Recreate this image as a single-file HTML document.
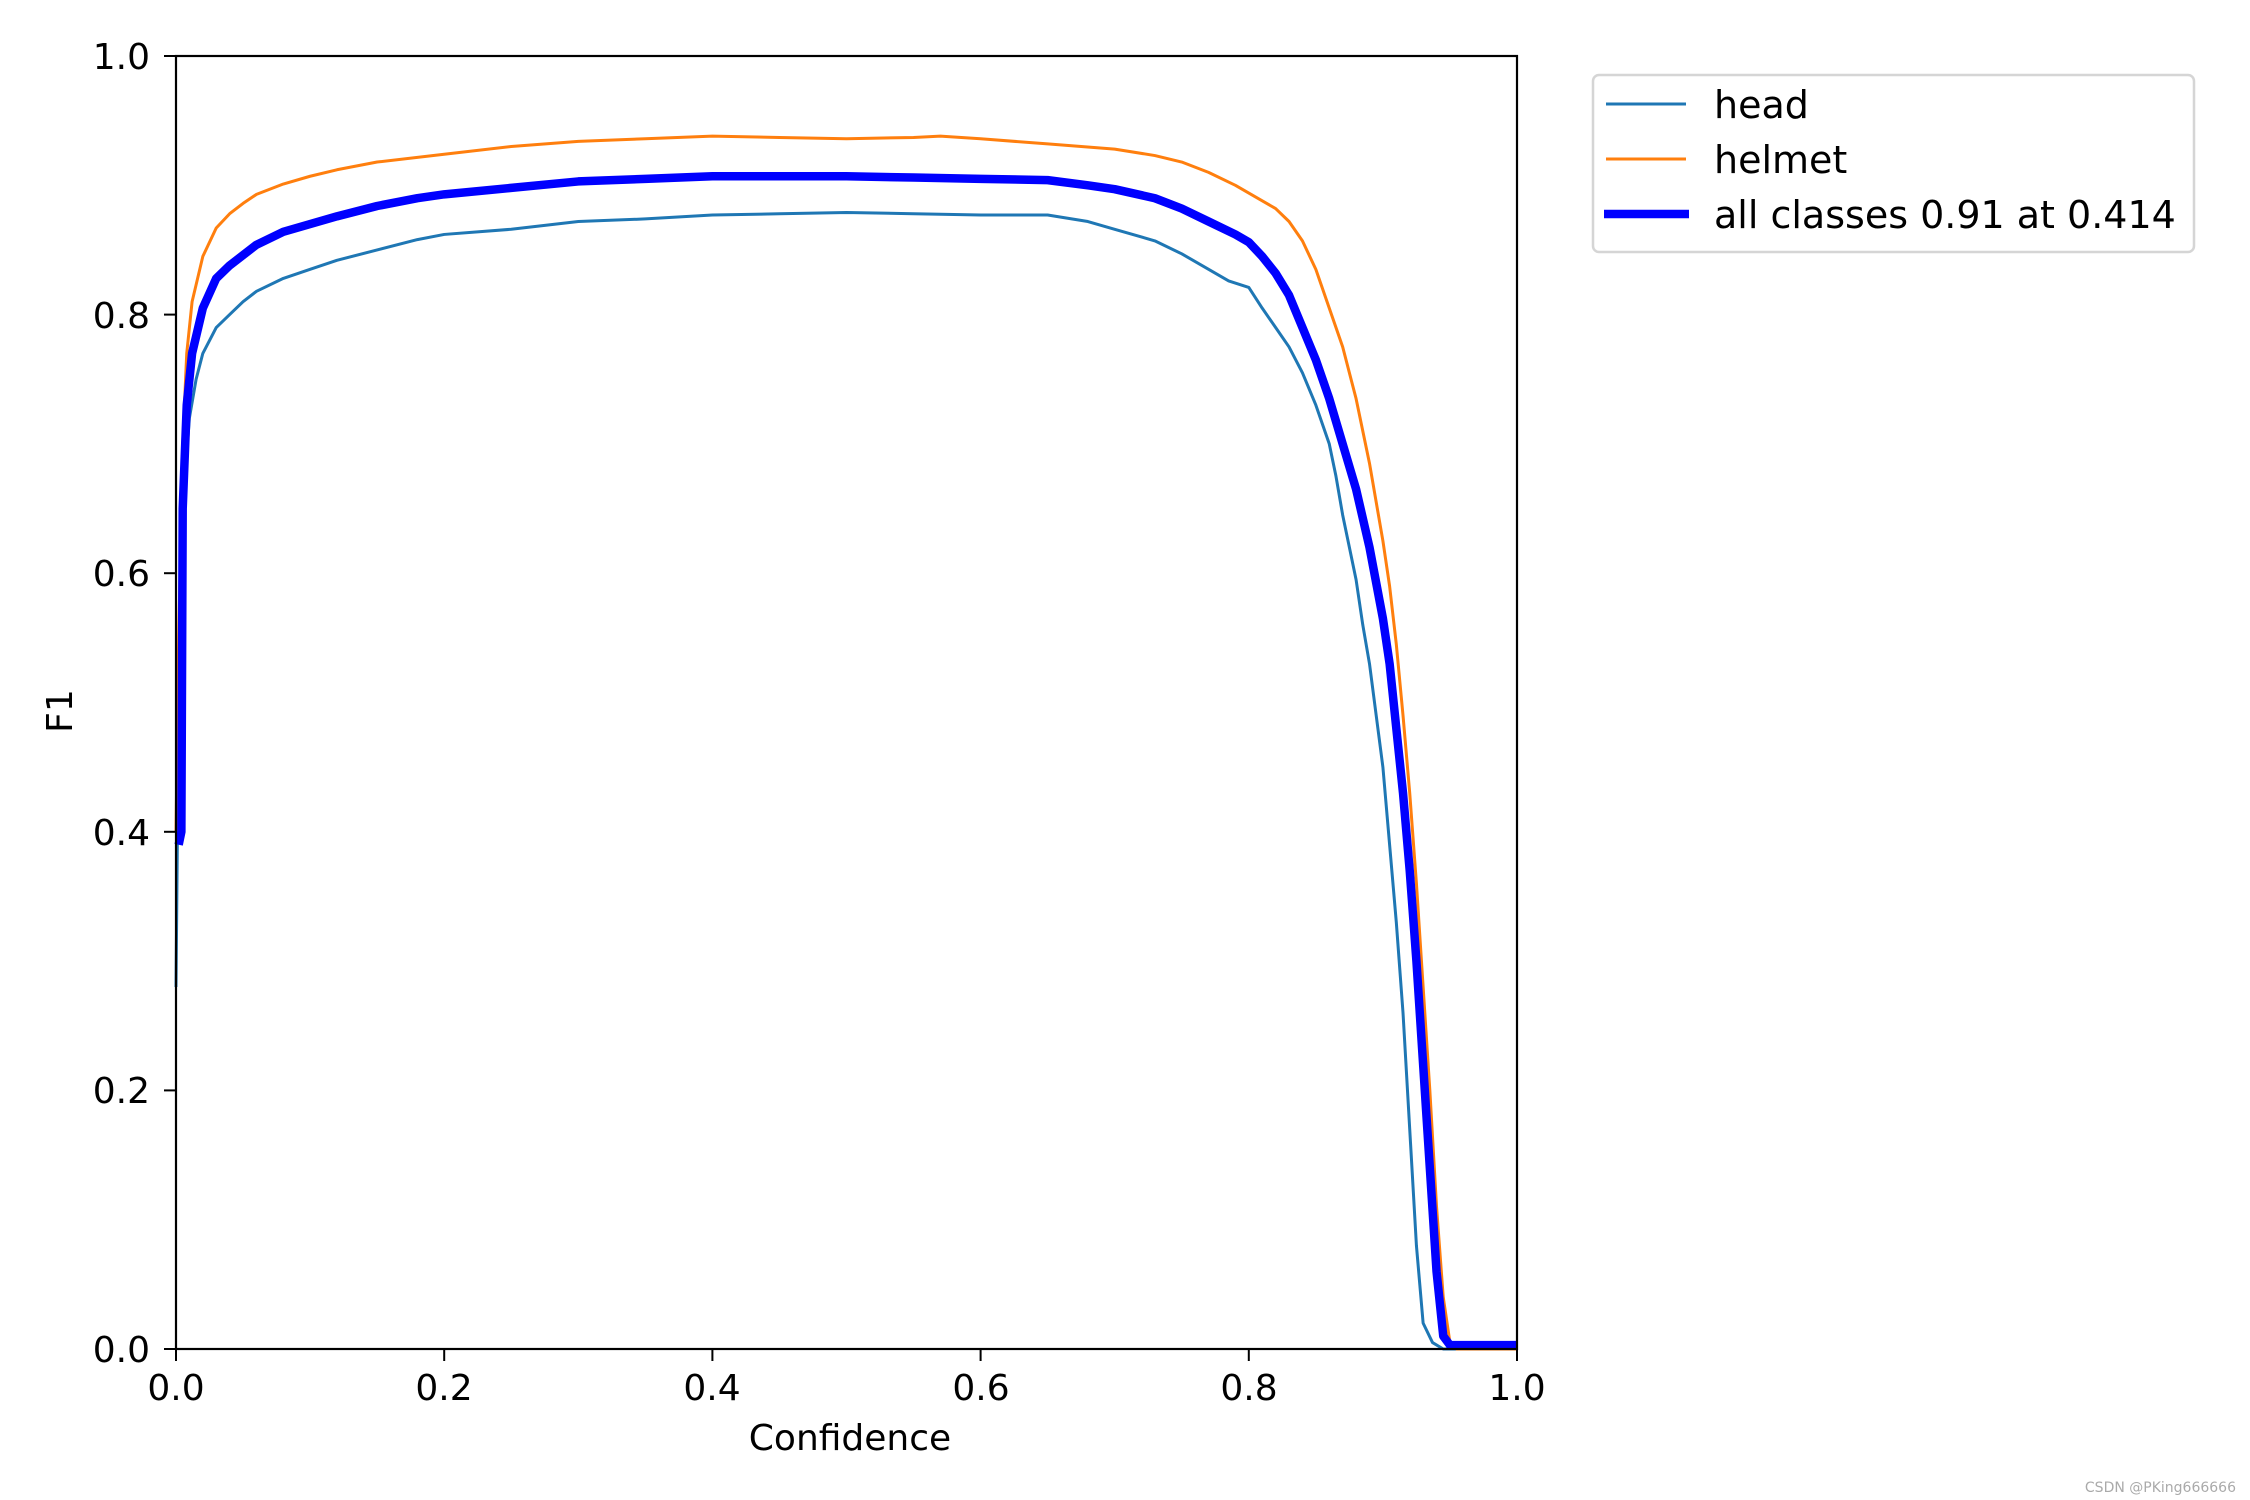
<!DOCTYPE html>
<html><head><meta charset="utf-8"><style>
html,body{margin:0;padding:0;background:#fff;}
svg{display:block;font-family:"DejaVu Sans","Liberation Sans",sans-serif;}
</style></head><body>
<svg width="2250" height="1500" viewBox="0 0 2250 1500" xmlns="http://www.w3.org/2000/svg">
<rect width="2250" height="1500" fill="#fff"/>
<g transform="translate(176,1349) scale(1341,-1293)" fill="none" stroke-linejoin="round" stroke-linecap="butt">
<polyline vector-effect="non-scaling-stroke" stroke="#1f77b4" stroke-width="3" points="0,0.28 0.002,0.5 0.005,0.65 0.01,0.72 0.015,0.75 0.02,0.77 0.03,0.79 0.04,0.8 0.05,0.81 0.06,0.818 0.08,0.828 0.1,0.835 0.12,0.842 0.15,0.85 0.18,0.858 0.2,0.862 0.25,0.866 0.3,0.872 0.35,0.874 0.4,0.877 0.45,0.878 0.5,0.879 0.55,0.878 0.6,0.877 0.65,0.877 0.68,0.872 0.7,0.866 0.73,0.857 0.75,0.847 0.77,0.835 0.785,0.826 0.8,0.821 0.81,0.805 0.82,0.79 0.83,0.775 0.84,0.755 0.85,0.73 0.86,0.7 0.865,0.675 0.87,0.645 0.875,0.62 0.88,0.595 0.885,0.56 0.89,0.53 0.895,0.49 0.9,0.45 0.905,0.39 0.91,0.33 0.915,0.26 0.92,0.17 0.925,0.08 0.93,0.02 0.937,0.005 0.945,0 1,0"/>
<polyline vector-effect="non-scaling-stroke" stroke="#ff7f0e" stroke-width="3" points="0,0.4 0.002,0.55 0.005,0.7 0.008,0.77 0.012,0.81 0.02,0.845 0.03,0.867 0.04,0.878 0.05,0.886 0.06,0.893 0.08,0.901 0.1,0.907 0.12,0.912 0.15,0.918 0.2,0.924 0.25,0.93 0.3,0.934 0.35,0.936 0.4,0.938 0.45,0.937 0.5,0.936 0.55,0.937 0.57,0.938 0.6,0.936 0.65,0.932 0.7,0.928 0.73,0.923 0.75,0.918 0.77,0.91 0.79,0.9 0.81,0.888 0.82,0.882 0.83,0.872 0.84,0.857 0.85,0.835 0.86,0.805 0.87,0.775 0.88,0.735 0.89,0.685 0.9,0.625 0.905,0.59 0.91,0.545 0.915,0.49 0.92,0.43 0.925,0.36 0.93,0.28 0.935,0.2 0.94,0.11 0.945,0.04 0.95,0.005 0.955,0 1,0"/>
<polyline vector-effect="non-scaling-stroke" stroke="#0000ff" stroke-width="8.5" points="0.002,0.39 0.004,0.4 0.005,0.65 0.008,0.73 0.012,0.77 0.02,0.805 0.03,0.828 0.04,0.838 0.05,0.846 0.06,0.854 0.08,0.864 0.1,0.87 0.12,0.876 0.15,0.884 0.18,0.89 0.2,0.893 0.25,0.898 0.3,0.903 0.35,0.905 0.4,0.907 0.45,0.907 0.5,0.907 0.55,0.906 0.6,0.905 0.65,0.904 0.68,0.9 0.7,0.897 0.73,0.89 0.75,0.882 0.77,0.872 0.79,0.862 0.8,0.856 0.81,0.845 0.82,0.832 0.83,0.815 0.84,0.79 0.85,0.765 0.86,0.735 0.87,0.7 0.88,0.665 0.89,0.62 0.9,0.565 0.905,0.53 0.91,0.48 0.915,0.43 0.92,0.37 0.925,0.3 0.93,0.22 0.935,0.14 0.94,0.06 0.945,0.01 0.95,0.003 1,0.003"/>
</g>
<rect x="176" y="56" width="1341" height="1293" fill="none" stroke="#000" stroke-width="2.2"/>
<g stroke="#000" stroke-width="2">
<line x1="164" y1="1349" x2="176" y2="1349"/><line x1="164" y1="1090.4" x2="176" y2="1090.4"/><line x1="164" y1="831.8" x2="176" y2="831.8"/><line x1="164" y1="573.2" x2="176" y2="573.2"/><line x1="164" y1="314.6" x2="176" y2="314.6"/><line x1="164" y1="56" x2="176" y2="56"/>
<line x1="176" y1="1349" x2="176" y2="1361"/><line x1="444.2" y1="1349" x2="444.2" y2="1361"/><line x1="712.4" y1="1349" x2="712.4" y2="1361"/><line x1="980.6" y1="1349" x2="980.6" y2="1361"/><line x1="1248.8" y1="1349" x2="1248.8" y2="1361"/><line x1="1517" y1="1349" x2="1517" y2="1361"/>
</g>
<g font-size="36" fill="#000" text-anchor="end">
<text x="150" y="1362">0.0</text><text x="150" y="1103">0.2</text><text x="150" y="845">0.4</text><text x="150" y="586">0.6</text><text x="150" y="328">0.8</text><text x="150" y="69">1.0</text>
</g>
<g font-size="36" fill="#000" text-anchor="middle">
<text x="176" y="1400">0.0</text><text x="444" y="1400">0.2</text><text x="712" y="1400">0.4</text><text x="981" y="1400">0.6</text><text x="1249" y="1400">0.8</text><text x="1517" y="1400">1.0</text>
<text x="850" y="1450">Confidence</text>
<text transform="translate(72,711) rotate(-90)">F1</text>
</g>
<rect x="1593" y="75" width="601" height="177" rx="6" fill="#fff" stroke="#d5d5d5" stroke-width="2.5"/>
<line x1="1606" y1="104" x2="1686" y2="104" stroke="#1f77b4" stroke-width="3"/>
<line x1="1606" y1="159" x2="1686" y2="159" stroke="#ff7f0e" stroke-width="3"/>
<line x1="1604" y1="214" x2="1689" y2="214" stroke="#0000ff" stroke-width="8.5"/>
<g font-size="38" fill="#000">
<text x="1714" y="118">head</text><text x="1714" y="173">helmet</text><text x="1714" y="228">all classes 0.91 at 0.414</text>
</g>
<text x="2236" y="1492" font-size="14" fill="#aaa" text-anchor="end">CSDN @PKing666666</text>
</svg>
</body></html>
